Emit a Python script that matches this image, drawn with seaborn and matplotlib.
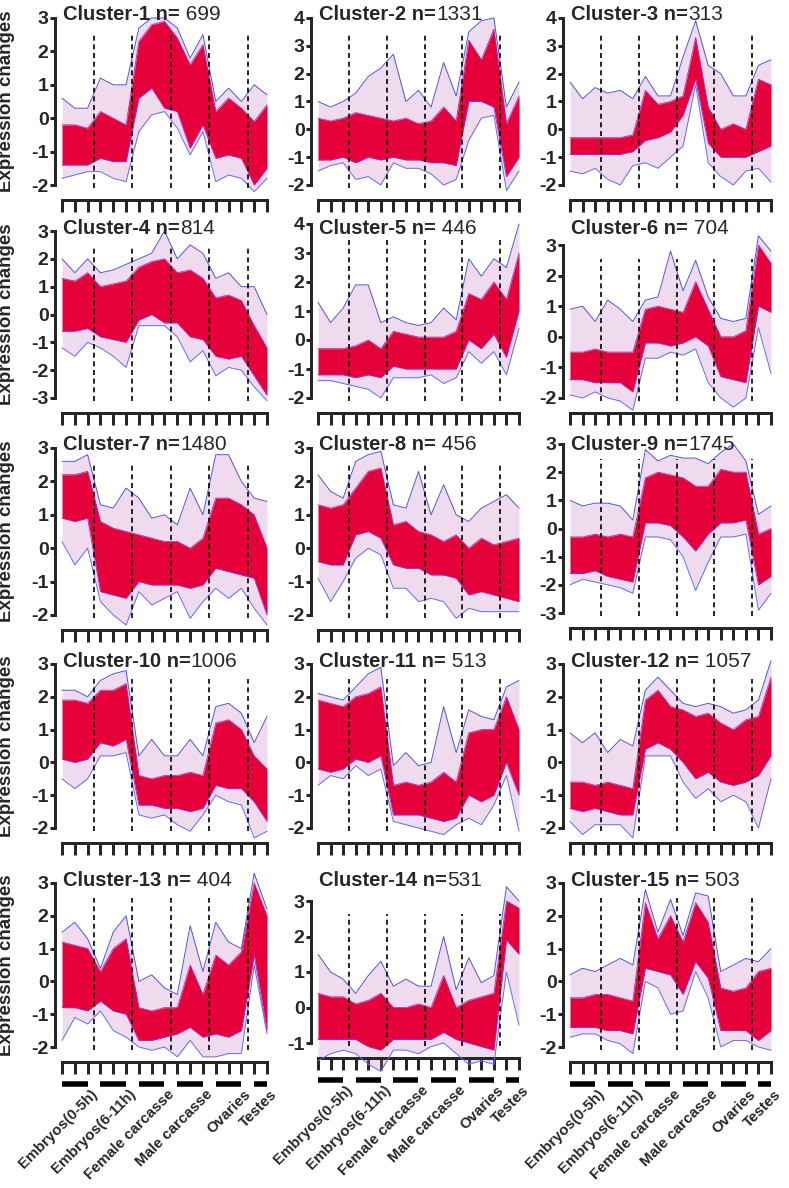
import numpy as np
import pandas as pd
import matplotlib
matplotlib.use("Agg")
import matplotlib.pyplot as plt
import seaborn as sns
from matplotlib.transforms import offset_copy

sns.set_style("ticks")
plt.rcParams["font.family"] = ["Liberation Sans", "DejaVu Sans"]
plt.rcParams["axes.unicode_minus"] = False


# ---- data ----
groups = ["Embryos(0-5h)", "Embryos(6-11h)", "Female carcasse",
          "Male carcasse", "Ovaries", "Testes"]
group_sizes = [3, 3, 3, 3, 3, 2]

cluster_ids = list(range(1, 16))
cluster_n = [" 699", "1331", "313", "814", " 446", " 704", "1480", " 456",
             "1745", "1006", " 513", " 1057", " 404", "531", " 503"]
y_min = [-2, -2, -2, -3, -2, -2, -2, -2, -3, -2, -2, -2, -2, -1, -2]
y_max = [3, 4, 4, 3, 4, 3, 3, 3, 3, 3, 3, 3, 3, 3, 3]

# each cluster: outermost upper line, upper edge of the dense band,
# lower edge of the dense band, outermost lower line (17 conditions)
c1_top = [0.6, 0.3, 0.3, 1.2, 1.0, 1.0, 2.7, 3.0, 3.0, 2.7, 1.8, 2.5, 0.5, 0.9, 0.5, 1.0, 0.7]
c1_hi = [-0.2, -0.2, -0.3, 0.2, 0.0, -0.2, 2.3, 2.8, 2.9, 2.4, 1.6, 2.2, 0.2, 0.6, 0.3, -0.1, 0.4]
c1_lo = [-1.4, -1.4, -1.4, -1.2, -1.3, -1.3, 0.6, 0.9, 0.3, 0.2, -0.9, -0.2, -1.2, -1.1, -1.2, -2.0, -1.5]
c1_bot = [-1.8, -1.7, -1.6, -1.6, -1.8, -1.9, -0.4, 0.1, 0.2, -0.3, -1.1, -0.4, -1.9, -1.7, -1.8, -2.2, -1.8]

c2_top = [1.0, 0.8, 1.0, 1.3, 1.9, 2.2, 2.7, 1.0, 1.4, 0.8, 2.4, 1.2, 3.5, 3.9, 4.0, 0.8, 1.7]
c2_hi = [0.4, 0.3, 0.4, 0.6, 0.5, 0.4, 0.3, 0.4, 0.2, 0.3, 0.8, 0.3, 3.2, 2.5, 3.6, 0.2, 1.2]
c2_lo = [-1.1, -1.1, -1.0, -1.2, -1.0, -1.1, -1.0, -1.1, -1.1, -1.2, -1.2, -1.3, 1.0, 1.0, 0.8, -1.7, -1.0]
c2_bot = [-1.5, -1.3, -1.2, -1.8, -1.7, -2.0, -1.2, -1.4, -1.4, -1.6, -2.0, -1.8, -0.4, 0.4, 0.5, -2.2, -1.5]

c3_top = [1.7, 1.1, 1.5, 1.3, 1.4, 1.1, 1.9, 1.2, 1.2, 2.6, 3.9, 2.3, 2.0, 1.2, 1.2, 2.3, 2.5]
c3_hi = [-0.3, -0.3, -0.3, -0.3, -0.3, -0.2, 1.4, 0.9, 1.0, 1.2, 3.3, 0.8, 0.0, 0.2, 0.0, 1.8, 1.6]
c3_lo = [-0.9, -0.9, -0.9, -0.9, -0.9, -0.8, -0.4, -0.3, -0.1, 0.5, 1.8, -0.5, -1.0, -1.0, -1.0, -0.8, -0.6]
c3_bot = [-1.5, -1.6, -1.4, -1.8, -2.0, -1.3, -1.2, -1.4, -1.0, -0.6, 1.6, -1.2, -1.7, -2.0, -1.5, -1.4, -1.9]

c4_top = [2.0, 1.5, 2.0, 1.5, 1.6, 1.8, 2.0, 2.2, 3.0, 2.0, 2.5, 2.2, 1.3, 1.5, 1.0, 1.0, 0.0]
c4_hi = [1.3, 1.2, 1.5, 1.0, 1.1, 1.2, 1.7, 1.9, 2.0, 1.5, 1.6, 1.3, 0.6, 0.7, 0.5, -0.4, -1.2]
c4_lo = [-0.6, -0.6, -0.5, -0.8, -0.9, -1.0, -0.2, 0.0, -0.3, -0.3, -0.8, -0.9, -1.5, -1.6, -1.5, -2.2, -2.9]
c4_bot = [-1.2, -1.5, -1.0, -1.2, -1.5, -1.9, -0.4, -0.4, -0.4, -0.8, -1.7, -1.3, -2.2, -1.9, -2.0, -2.6, -3.1]

c5_top = [1.3, 0.6, 1.1, 1.9, 1.9, 0.6, 0.8, 0.6, 0.5, 0.6, 1.1, 0.7, 2.8, 2.2, 2.8, 2.5, 4.0]
c5_hi = [-0.3, -0.3, -0.3, -0.2, 0.0, -0.3, 0.3, 0.2, 0.1, 0.1, 0.1, 0.3, 1.6, 1.4, 2.0, 1.4, 3.0]
c5_lo = [-1.2, -1.2, -1.2, -1.3, -1.2, -1.3, -0.9, -1.0, -1.0, -1.0, -1.0, -1.0, 0.0, -0.3, 0.2, -0.6, 1.0]
c5_bot = [-1.4, -1.4, -1.5, -1.6, -1.7, -2.0, -1.3, -1.3, -1.3, -1.2, -1.5, -1.3, -0.4, -0.8, -0.4, -1.2, 0.4]

c6_top = [0.9, 1.0, 0.5, 1.2, 0.9, 0.5, 1.2, 1.3, 2.8, 1.5, 2.5, 1.3, 0.6, 0.5, 0.6, 3.3, 2.8]
c6_hi = [-0.5, -0.5, -0.4, -0.5, -0.5, -0.5, 0.9, 1.0, 0.9, 0.8, 1.8, 0.9, 0.0, 0.0, 0.2, 3.0, 2.4]
c6_lo = [-1.4, -1.4, -1.5, -1.5, -1.5, -1.8, -0.2, -0.2, -0.3, -0.2, 0.0, -0.3, -1.3, -1.4, -1.5, 1.0, 0.8]
c6_bot = [-1.9, -2.0, -1.8, -2.0, -2.1, -2.4, -0.7, -0.7, -0.5, -0.6, -0.4, -1.5, -2.0, -2.3, -2.0, 0.3, -1.2]

c7_top = [2.6, 2.6, 2.8, 1.3, 1.2, 1.8, 1.5, 0.9, 1.0, 0.7, 1.8, 1.0, 2.8, 2.8, 2.0, 1.5, 1.4]
c7_hi = [2.2, 2.2, 2.3, 0.8, 0.6, 0.5, 0.4, 0.3, 0.2, 0.2, 0.0, 0.3, 1.5, 1.5, 1.3, 1.0, 0.0]
c7_lo = [0.9, 0.8, 0.9, -1.3, -1.4, -1.5, -1.0, -1.1, -1.1, -1.1, -1.2, -1.1, -0.6, -0.7, -0.8, -0.9, -2.0]
c7_bot = [0.2, -0.5, 0.0, -1.6, -2.0, -2.3, -1.3, -1.7, -1.5, -1.3, -2.1, -1.6, -1.2, -1.5, -1.2, -1.8, -2.3]

c8_top = [2.2, 1.7, 1.5, 2.6, 2.8, 2.9, 1.3, 1.2, 2.3, 1.0, 1.9, 1.0, 0.8, 1.2, 1.4, 1.6, 1.2]
c8_hi = [1.3, 1.2, 1.3, 1.8, 2.3, 2.4, 0.7, 0.8, 0.5, 0.4, 0.2, 0.4, 0.0, 0.3, 0.1, 0.2, 0.3]
c8_lo = [-0.4, -0.5, -0.5, 0.4, 0.5, 0.3, -0.5, -0.6, -0.6, -0.8, -0.8, -0.9, -1.4, -1.3, -1.4, -1.5, -1.6]
c8_bot = [-0.9, -1.6, -1.0, -0.3, 0.0, -0.2, -1.2, -1.2, -1.6, -1.5, -1.6, -2.1, -1.8, -1.9, -1.9, -1.9, -1.9]

c9_top = [1.0, 0.8, 0.9, 0.9, 0.8, 0.3, 2.8, 2.4, 2.6, 2.5, 2.5, 2.3, 2.7, 3.0, 2.4, 0.5, 0.8]
c9_hi = [-0.3, -0.3, -0.2, -0.3, -0.2, -0.3, 1.8, 2.0, 1.9, 1.8, 1.5, 1.5, 2.1, 2.0, 2.0, -0.2, 0.0]
c9_lo = [-1.6, -1.6, -1.5, -1.7, -1.8, -1.9, 0.2, 0.2, 0.1, -0.3, -0.8, -0.2, 0.2, 0.2, 0.3, -2.0, -1.7]
c9_bot = [-2.0, -1.8, -1.9, -2.0, -2.1, -2.3, -0.3, -0.3, -0.4, -1.0, -2.2, -1.2, -0.3, -0.3, -0.2, -2.9, -2.3]

c10_top = [2.2, 2.2, 2.0, 2.5, 2.7, 2.8, 0.2, 0.7, 0.2, 0.2, 0.7, 0.2, 1.7, 1.8, 1.5, 0.6, 1.4]
c10_hi = [1.9, 1.9, 1.8, 2.2, 2.2, 2.4, -0.4, -0.5, -0.4, -0.4, -0.3, -0.4, 1.2, 1.3, 1.0, 0.2, -0.2]
c10_lo = [0.1, 0.0, 0.1, 0.6, 0.5, 0.7, -1.3, -1.3, -1.4, -1.4, -1.5, -1.4, -0.7, -0.8, -0.8, -1.2, -1.8]
c10_bot = [-0.5, -0.8, -0.5, 0.2, 0.2, 0.3, -1.6, -1.7, -1.6, -1.9, -2.1, -1.6, -1.0, -1.2, -1.3, -2.3, -2.1]

c11_top = [2.1, 2.0, 1.9, 2.3, 2.7, 2.9, -0.1, 0.3, -0.1, 0.0, 1.7, 0.3, 1.6, 1.4, 1.3, 2.3, 2.5]
c11_hi = [1.9, 1.8, 1.7, 2.0, 2.1, 2.3, -0.7, -0.6, -0.7, -0.6, -0.3, -0.6, 0.9, 1.0, 1.0, 2.0, 1.0]
c11_lo = [-0.2, -0.3, -0.2, 0.1, 0.0, 0.2, -1.6, -1.6, -1.6, -1.7, -1.8, -1.7, -1.0, -1.2, -1.0, 0.0, -1.0]
c11_bot = [-0.7, -0.4, -0.5, -0.1, -0.4, -0.2, -1.8, -1.9, -2.0, -2.1, -2.2, -1.9, -1.7, -1.9, -1.3, -0.4, -2.1]

c12_top = [0.9, 0.6, 0.9, 0.3, 0.7, 0.5, 2.2, 2.6, 2.2, 1.8, 1.7, 1.8, 1.7, 1.5, 1.6, 1.9, 3.1]
c12_hi = [-0.6, -0.6, -0.7, -0.6, -0.7, -0.8, 1.9, 2.2, 1.7, 1.6, 1.4, 1.5, 1.2, 1.0, 1.3, 1.4, 2.6]
c12_lo = [-1.4, -1.5, -1.4, -1.5, -1.6, -1.6, 0.4, 0.6, 0.4, 0.0, -0.5, -0.3, -0.6, -0.7, -0.6, -0.4, 0.2]
c12_bot = [-1.8, -2.2, -1.9, -1.9, -1.9, -2.3, 0.2, 0.2, 0.2, -0.6, -1.1, -0.8, -1.2, -1.0, -1.2, -2.0, -0.5]

c13_top = [1.5, 1.8, 1.3, 0.4, 1.5, 2.0, 0.0, 0.2, -0.2, -0.4, 1.7, 0.3, 1.8, 1.2, 1.0, 3.3, 2.2]
c13_hi = [1.2, 1.1, 1.0, 0.3, 1.0, 1.3, -0.8, -0.9, -0.8, -0.8, 0.5, -0.4, 0.8, 0.5, 0.9, 3.0, 2.0]
c13_lo = [-0.8, -0.8, -0.9, -0.6, -0.9, -1.0, -1.8, -1.8, -1.7, -1.6, -1.4, -1.7, -1.6, -1.7, -1.5, 0.8, -1.5]
c13_bot = [-1.8, -1.1, -1.3, -0.9, -1.5, -1.7, -2.0, -2.1, -2.0, -2.3, -1.8, -2.3, -2.3, -2.2, -2.2, 0.5, -1.6]

c14_top = [1.5, 1.0, 0.8, 0.4, 0.9, 1.3, 0.6, 0.8, 0.6, 0.6, 2.0, 0.5, 1.4, 0.7, 0.9, 3.4, 3.0]
c14_hi = [0.4, 0.3, 0.3, 0.1, 0.2, 0.4, 0.0, 0.0, 0.1, 0.0, 0.9, 0.0, 0.2, 0.3, 0.4, 3.0, 2.8]
c14_lo = [-0.9, -0.9, -0.9, -0.9, -1.1, -1.2, -0.9, -0.9, -0.9, -0.9, -0.7, -0.9, -1.0, -1.1, -1.2, 1.9, 1.5]
c14_bot = [-1.5, -1.3, -1.2, -1.3, -1.6, -1.8, -1.2, -1.2, -1.3, -1.1, -1.0, -1.3, -1.6, -1.5, -1.6, 1.0, -0.5]

c15_top = [0.2, 0.4, 0.3, 0.5, 0.7, 0.5, 2.8, 1.5, 2.5, 1.4, 2.7, 2.6, 0.3, 0.5, 0.7, 0.6, 1.0]
c15_hi = [-0.5, -0.5, -0.4, -0.4, -0.5, -0.6, 2.4, 1.3, 2.0, 1.2, 2.4, 1.8, -0.2, -0.3, -0.2, 0.3, 0.4]
c15_lo = [-1.4, -1.4, -1.4, -1.5, -1.5, -1.6, 0.4, 0.3, 0.2, -0.4, 0.6, 0.1, -1.5, -1.5, -1.5, -1.8, -1.5]
c15_bot = [-1.7, -1.6, -1.6, -1.8, -1.9, -2.2, 0.0, -0.2, -1.0, -0.9, 0.3, -0.5, -2.0, -1.8, -1.8, -2.0, -2.1]

profiles = [
    (c1_top, c1_hi, c1_lo, c1_bot), (c2_top, c2_hi, c2_lo, c2_bot),
    (c3_top, c3_hi, c3_lo, c3_bot), (c4_top, c4_hi, c4_lo, c4_bot),
    (c5_top, c5_hi, c5_lo, c5_bot), (c6_top, c6_hi, c6_lo, c6_bot),
    (c7_top, c7_hi, c7_lo, c7_bot), (c8_top, c8_hi, c8_lo, c8_bot),
    (c9_top, c9_hi, c9_lo, c9_bot), (c10_top, c10_hi, c10_lo, c10_bot),
    (c11_top, c11_hi, c11_lo, c11_bot), (c12_top, c12_hi, c12_lo, c12_bot),
    (c13_top, c13_hi, c13_lo, c13_bot), (c14_top, c14_hi, c14_lo, c14_bot),
    (c15_top, c15_hi, c15_lo, c15_bot),
]


# ---- layout (pixels of a 789 x 1188 canvas) ----
W, H = 789, 1188
col_spine = [55, 311, 563]
col_end = [267, 519, 771]
row_top = [18, 231, 448, 664, 883]
row_bot = [185, 398, 615, 828, 1047]
top_fix = {5: 224, 6: 245, 9: 444, 14: 901}
bot_fix = {9: 613, 14: 1043}

px = 72 / 100  # points per pixel

core_red = "#e6003a"
dark = "#262626"

fig = plt.figure(figsize=(W / 100, H / 100), dpi=100)

n_pts = sum(group_sizes)
idx = np.arange(n_pts)
bounds = np.cumsum(group_sizes)[:-1] - 0.5
starts = np.concatenate([[0], np.cumsum(group_sizes)[:-1]])
ends = np.cumsum(group_sizes) - 1

for k, cid in enumerate(cluster_ids):
    r, c = divmod(k, 3)
    top_px = top_fix.get(cid, row_top[r])
    bot_px = bot_fix.get(cid, row_bot[r])
    ax = fig.add_axes([col_spine[c] / W, 1 - bot_px / H,
                       (col_end[c] + 0.5 - col_spine[c]) / W,
                       (bot_px - top_px) / H])

    top, hi, lo, bot = profiles[k]
    df = pd.DataFrame({"x": idx, "top": top, "hi": hi, "lo": lo, "bot": bot})

    # sparse outer lines and dense core
    ax.fill_between(df["x"], df["bot"], df["top"], color="#c774c0",
                    alpha=0.26, lw=0, clip_on=False, zorder=1)
    ax.fill_between(df["x"], df["lo"], df["hi"], color=core_red,
                    lw=0, clip_on=False, zorder=2)
    sns.lineplot(data=df, x="x", y="top", ax=ax, color="#4a55e0",
                 lw=0.7, clip_on=False, zorder=3)
    sns.lineplot(data=df, x="x", y="bot", ax=ax, color="#5f70f0",
                 lw=0.7, clip_on=False, zorder=3)
    sns.lineplot(data=df, x="x", y="hi", ax=ax, color="#b526a8",
                 lw=0.6, clip_on=False, zorder=3)
    sns.lineplot(data=df, x="x", y="lo", ax=ax, color="#9a2bd0",
                 lw=0.6, clip_on=False, zorder=3)

    for b in bounds:
        ax.axvline(b, ymin=-0.02, ymax=0.91, color="black", lw=1.2,
                   ls=(0, (3, 2.2)), clip_on=False, zorder=4)

    ax.set_xlim(-7 / ((col_end[c] - col_spine[c] - 7) / 16), 16.04)
    ax.set_ylim(y_min[k], y_max[k])
    ax.set_xlabel("")
    ax.set_ylabel("")
    ax.set_facecolor("none")

    for s in ["top", "right"]:
        ax.spines[s].set_visible(False)
    ax.spines["left"].set_bounds(y_min[k], y_max[k])
    ax.spines["left"].set_linewidth(3 * px)
    ax.spines["left"].set_color(dark)
    ax.spines["bottom"].set_bounds(0, n_pts - 1)
    ax.spines["bottom"].set_linewidth(3 * px)
    ax.spines["bottom"].set_color(dark)
    ax.spines["bottom"].set_position(("outward", 15 * px))

    ax.set_yticks(range(y_min[k], y_max[k] + 1))
    ax.set_yticklabels([str(v) for v in range(y_min[k], y_max[k] + 1)],
                       fontweight="bold", fontsize=14)
    ax.tick_params(axis="y", direction="out", length=5 * px, width=3 * px,
                   color=dark, pad=1)
    ax.set_xticks(idx)
    ax.set_xticklabels([])
    ax.tick_params(axis="x", direction="out", length=12 * px, width=3 * px,
                   color=dark)

    if c == 0:
        ax.set_ylabel("Expression changes", fontsize=13.5, fontweight="bold")
        ax.yaxis.set_label_coords(-(col_spine[0] - 15) / (col_end[0] - col_spine[0]), 0.5)

    # title: bold "Cluster-N n=" followed by the regular count
    t1 = ax.annotate(f"Cluster-{cid} n=", xy=((col_spine[c] + 8) / W, 1 - (row_top[r] - 3) / H),
                     xycoords="figure fraction", fontsize=14.5, fontweight="bold",
                     ha="left", va="center", annotation_clip=False)
    ax.annotate(cluster_n[k], xy=(1, 0), xycoords=t1, fontsize=15,
                ha="left", va="bottom", annotation_clip=False)

    if r == 4:
        bar_tr = offset_copy(ax.get_xaxis_transform(), fig=fig,
                             y=-(15 + 12 + 10) * px, units="points")
        lab_tr = offset_copy(ax.get_xaxis_transform(), fig=fig,
                             y=-(15 + 12 + 13) * px, units="points")
        for g, s0, e0 in zip(groups, starts, ends):
            ax.plot([s0, e0], [0, 0], color="black", lw=5.5 * px,
                    solid_capstyle="butt", transform=bar_tr, clip_on=False)
            ax.text(e0 + 0.2, 0, g, transform=lab_tr, rotation=45,
                    rotation_mode="anchor", ha="right", va="top",
                    fontsize=10.8, fontweight="bold")

fig.savefig("out.png", dpi=100)
